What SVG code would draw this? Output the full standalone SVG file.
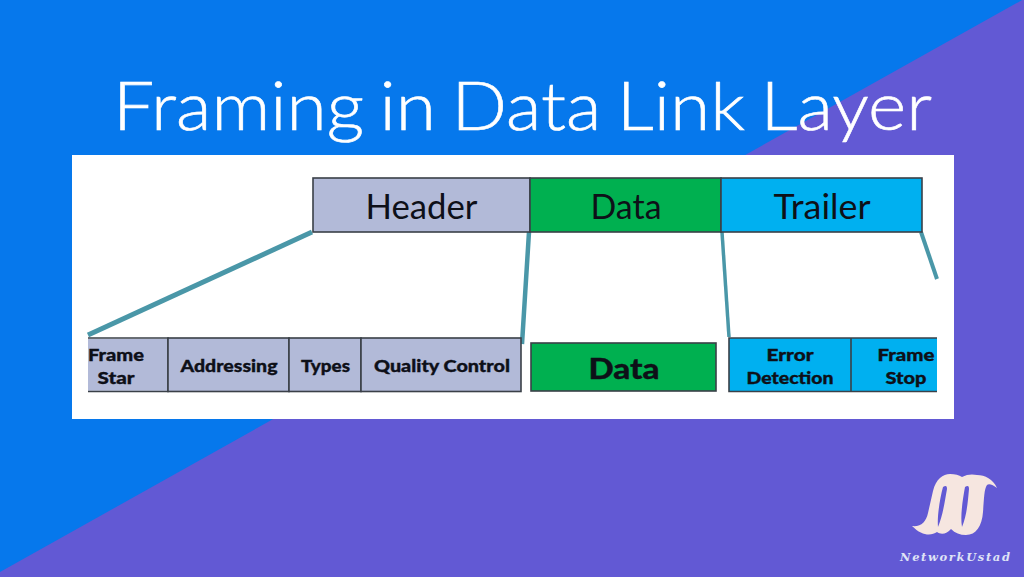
<svg xmlns="http://www.w3.org/2000/svg" width="1024" height="577" viewBox="0 0 1024 577">
<style>
.box{stroke:#3a4048;stroke-width:1.6}
.wire{stroke:#4a97a8;fill:none}
.h{font-family:Lato,"Liberation Sans",sans-serif;font-size:34px;fill:#0e1018;text-anchor:middle}
.b{font-family:Lato,"Liberation Sans",sans-serif;font-weight:900;font-size:17.5px;fill:#0e1018;stroke:#0e1018;stroke-width:.35;text-anchor:middle}
</style>
<rect width="1024" height="577" fill="#0678ec"/>
<polygon points="1024,-1 1024,577 0,577 0,572" fill="#6259d4"/>
<text x="113" y="130" font-family="Lato,'Liberation Sans',sans-serif" font-weight="300" font-size="67" fill="#fff" stroke="#fff" stroke-width=".6" word-spacing="-4" textLength="819" lengthAdjust="spacingAndGlyphs">Framing in Data Link Layer</text>
<rect x="72" y="155" width="882" height="264" fill="#fff"/>
<g id="connectors">
<line class="wire" x1="312" y1="232" x2="88" y2="335" stroke-width="5"/>
<line class="wire" x1="529" y1="232" x2="522" y2="344" stroke-width="4.500"/>
<line class="wire" x1="722" y1="232" x2="729" y2="337" stroke-width="3.500"/>
<line class="wire" x1="921" y1="232" x2="937" y2="279" stroke-width="4"/>
</g>
<g id="header"><rect class="box" x="313" y="178" width="217" height="54" fill="#b2bad8"/><text class="h" x="421.500" y="219" textLength="112" lengthAdjust="spacingAndGlyphs">Header</text></g>
<g id="data"><rect class="box" x="530" y="178" width="191" height="54" fill="#00b050"/><text class="h" x="626" y="219" textLength="71" lengthAdjust="spacingAndGlyphs">Data</text></g>
<g id="trailer"><rect class="box" x="721" y="178" width="201" height="54" fill="#00b0f0"/><text class="h" x="822" y="219" textLength="97" lengthAdjust="spacingAndGlyphs">Trailer</text></g>
<g id="frame-start"><rect x="88" y="338.800" width="79.500" height="52" fill="#b2bad8"/><path class="box" d="M88 338H168V391.500H88" fill="none"/><text class="b" x="116" y="361" textLength="56" lengthAdjust="spacingAndGlyphs">Frame</text><text class="b" x="116" y="384" textLength="37" lengthAdjust="spacingAndGlyphs">Star</text></g>
<g id="addressing"><rect class="box" x="168" y="338" width="121" height="53.500" fill="#b2bad8"/><text class="b" x="229" y="372" textLength="97" lengthAdjust="spacingAndGlyphs">Addressing</text></g>
<g id="types"><rect class="box" x="289" y="338" width="72" height="53.500" fill="#b2bad8"/><text class="b" x="325.500" y="372" textLength="49" lengthAdjust="spacingAndGlyphs">Types</text></g>
<g id="quality-control"><rect class="box" x="361" y="338" width="160" height="53.500" fill="#b2bad8"/><text class="b" x="442" y="372" textLength="136" lengthAdjust="spacingAndGlyphs">Quality Control</text></g>
<g id="data-detail"><rect class="box" x="531" y="343" width="185" height="48" fill="#00b050"/><text class="b" x="624" y="379" style="font-size:29px" textLength="71" lengthAdjust="spacingAndGlyphs">Data</text></g>
<g id="error-detection"><rect x="729" y="338" width="122" height="53.500" fill="#00b0f0"/><text class="b" x="790" y="361" textLength="47" lengthAdjust="spacingAndGlyphs">Error</text><text class="b" x="790" y="384" textLength="87" lengthAdjust="spacingAndGlyphs">Detection</text></g>
<g id="frame-stop"><rect x="851" y="338" width="86" height="53.500" fill="#00b0f0"/><path class="box" d="M937 338H729V391.500H937M851 338V391.500" fill="none"/><text class="b" x="906" y="361" textLength="57" lengthAdjust="spacingAndGlyphs">Frame</text><text class="b" x="906" y="384" textLength="41" lengthAdjust="spacingAndGlyphs">Stop</text></g>
<g id="logo">
<path fill="#f6e6e0" d="M912 526C921 527 926 522 928 513L933 491C936 479 943 474 950 474C955 474 959 475 962 477C967 474 973 474 977 475C985 475 993 479 997 488C993 485 989 483 987 485C984 489 984 500 983 512C982 526 976 535 966 535C960 535 955 533 951 529C947 534 941 535 937 532C931 536 922 536 912 526Z"/>
<path fill="#6259d4" d="M943 487C946 485 947 486 947 489C945 500 943 515 938 527C937 516 940 498 943 487Z"/>
<path fill="#6259d4" d="M965 487C968 485 969 486 969 489C968 500 967 515 962 527C960 516 963 498 965 487Z"/>
<text x="900" y="561" font-family="'DejaVu Serif',serif" font-style="italic" font-weight="700" font-size="11.500" fill="#dfe3f6" textLength="110">NetworkUstad</text>
</g>
</svg>
